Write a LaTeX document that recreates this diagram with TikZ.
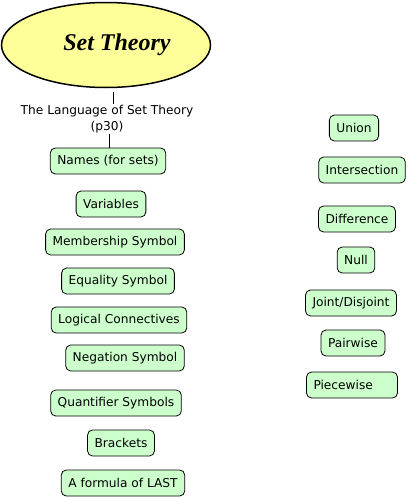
\documentclass[tikz,border=0pt]{standalone}
\usepackage{fontspec}
\setmainfont{DejaVu Sans}
\newfontfamily\titlefont{Liberation Serif}
\usetikzlibrary{shapes.geometric}
\definecolor{topicyellow}{RGB}{255,255,153}
\definecolor{termgreen}{RGB}{204,255,204}
\begin{document}
\begin{tikzpicture}[x=1pt,y=-1pt,
    term/.style={rectangle, rounded corners=5pt, draw, line width=0.8pt, fill=termgreen,
        minimum height=26pt, inner xsep=7pt, font=\fontsize{12.2}{14}\selectfont}]
        \useasboundingbox (0,0) rectangle (408,498);
        % Nodes
        \node(st) [ellipse, draw, line width=1.5pt, fill=topicyellow, minimum width=209pt, minimum height=85pt]
            at (106,45) {\titlefont\fontsize{24}{28}\selectfont\bfseries\itshape\hspace*{22pt}Set Theory};
        \node(lang) [align=center, inner sep=1pt, font=\fontsize{12.2}{16}\selectfont] at (107,119)
            {The Language of Set Theory\\(p30)};

        \node(names) [term] at (108,161) {Names (for sets)};
        \node(vars) [term] at (111,204) {Variables};
        \node(memb) [term] at (115,242) {Membership Symbol};
        \node(eq) [term] at (118,281) {Equality Symbol};
        \node(logic) [term] at (119,320) {Logical Connectives};
        \node(neg) [term] at (125,358) {Negation Symbol};
        \node(quant) [term] at (116,403) {Quantifier Symbols};
        \node(brack) [term] at (121,443) {Brackets};
        \node(last) [term] at (123,483) {A formula of LAST};

        \node(union) [term] at (354,128) {Union};
        \node(inter) [term] at (362,170) {Intersection};
        \node(diff) [term] at (357,219) {Difference};
        \node(null) [term] at (356,260) {Null};
        \node(joint) [term] at (351,303) {Joint/Disjoint};
        \node(pair) [term] at (353,343) {Pairwise};
        \node(piece) [term, text width=77pt, align=left] at (352,385) {Piecewise};

        % Edges
        \draw ([xshift=7pt,yshift=-4pt]st.south) -- ([xshift=6pt]lang.north);
        \draw ([xshift=2pt]lang.south) -- ([xshift=1pt]names.north);
    \end{tikzpicture}
\end{document}
